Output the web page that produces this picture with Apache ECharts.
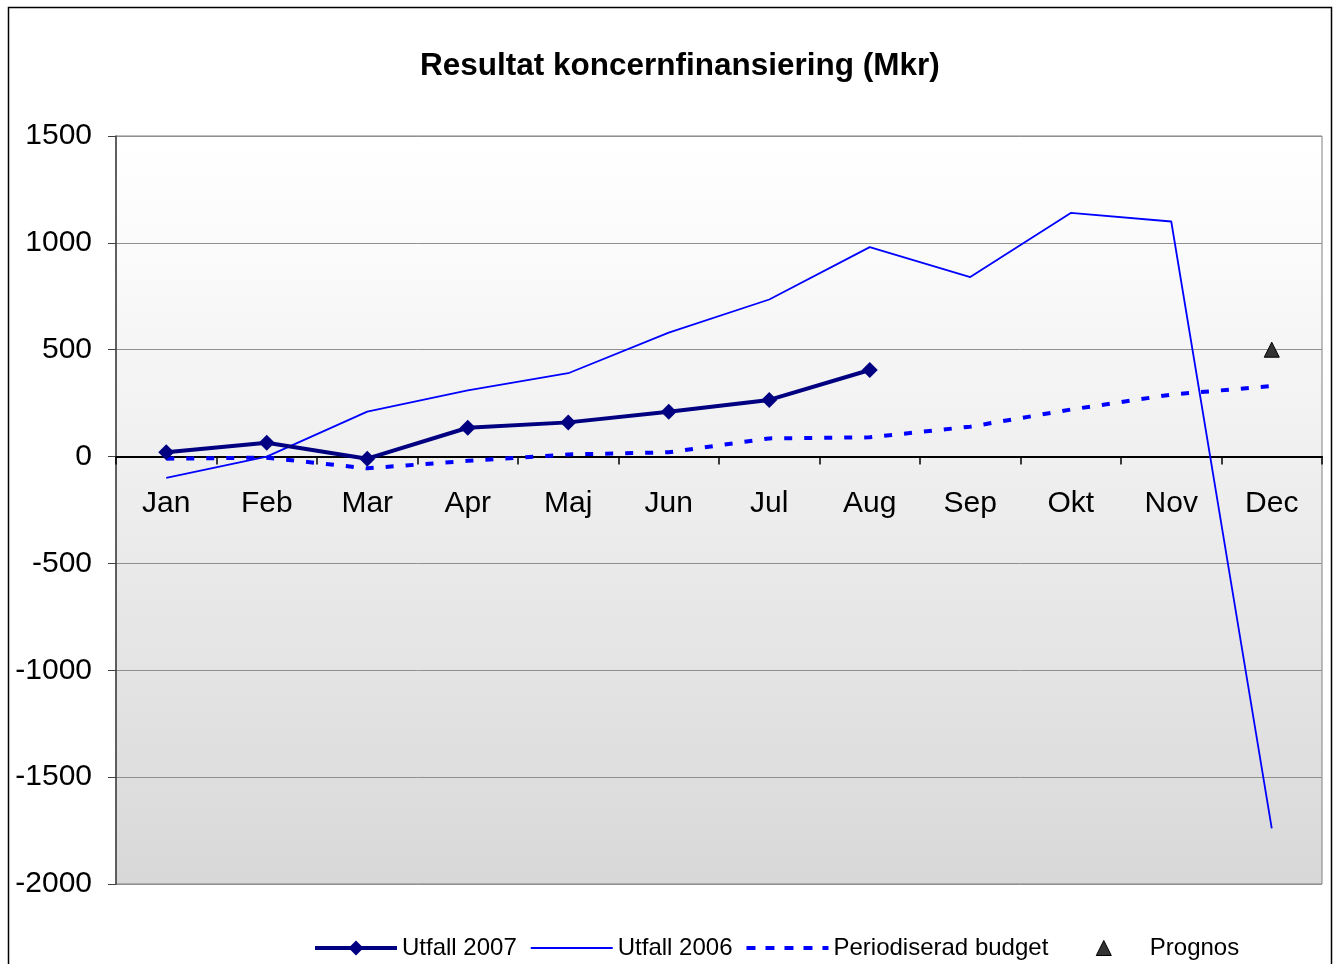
<!DOCTYPE html>
<html>
<head>
<meta charset="utf-8">
<script src="https://cdn.jsdelivr.net/npm/echarts@6/dist/echarts.min.js"></script>
<style>
html,body{margin:0;padding:0;background:#fff;}
#chart{width:1336px;height:964px;}
</style>
</head>
<body>
<div id="chart"></div>
<script>
var months = ['Jan','Feb','Mar','Apr','Maj','Jun','Jul','Aug','Sep','Okt','Nov','Dec'];
var utfall2007 = [20, 65, -10, 135, 160, 210, 265, 405, null, null, null, null];
var utfall2006 = [-100, 0, 210, 310, 390, 580, 735, 980, 840, 1140, 1100, -1740];
var budget = [-10, -5, -55, -20, 10, 20, 85, 90, 140, 220, 290, 330];
var prognos = [null, null, null, null, null, null, null, null, null, null, null, 500];
var yTicks = {min: -2000, max: 1500, interval: 500};

var chart = echarts.init(document.getElementById('chart'));
var font = 'Liberation Sans, Arial, sans-serif';
chart.setOption({
  animation: false,
  backgroundColor: '#ffffff',
  title: {
    text: 'Resultat koncernfinansiering (Mkr)',
    left: 415, top: 45,
    textStyle: {fontFamily: font, fontSize: 31.5, fontWeight: 'bold', color: '#000'}
  },
  graphic: [{
    type: 'rect', silent: true, z: 100,
    shape: {x: 8.5, y: 7.5, width: 1323, height: 980},
    style: {fill: 'none', stroke: '#000', lineWidth: 1.5}
  }],
  legend: {
    left: 315, top: 936, padding: 0,
    itemWidth: 82, itemHeight: 15, itemGap: 14,
    symbolKeepAspect: true,
    itemStyle: {borderWidth: 0},
    textStyle: {fontFamily: font, fontSize: 24, color: '#000'},
    data: [
      {name: 'Utfall 2007', icon: 'path://M0,5.5h82v4H0z M41,0L48.5,7.5L41,15L33.5,7.5z', itemStyle: {color: '#000080', borderWidth: 0}},
      {name: 'Utfall 2006', icon: 'path://M0,0h82v1.8H0z', itemStyle: {color: '#0000ff', borderWidth: 0}},
      {name: 'Periodiserad budget', icon: 'path://M0,0h9v4H0z M19,0h9v4h-9z M38,0h9v4h-9z M57,0h9v4h-9z M76,0h6v4h-6z', itemStyle: {color: '#0000ff', borderWidth: 0}},
      {name: 'Prognos', icon: 'path://M0,0L0,0z M82,15L82,15z M41,0L48.5,15H33.5z', itemStyle: {color: '#333333', borderColor: '#000', borderWidth: 1}}
    ]
  },
  grid: {
    left: 116, top: 136, right: 14, bottom: 80,
    show: true,
    borderColor: '#808080', borderWidth: 1,
    backgroundColor: new echarts.graphic.LinearGradient(0, 0, 0, 1, [
      {offset: 0, color: '#ffffff'},
      {offset: 0.15, color: '#fbfbfb'},
      {offset: 1, color: '#d8d8d8'}
    ])
  },
  xAxis: {
    type: 'category',
    data: months,
    boundaryGap: true,
    axisLine: {onZero: true, lineStyle: {color: '#000', width: 2}},
    axisTick: {show: true, inside: false, length: 8, alignWithLabel: false, lineStyle: {color: '#000', width: 1.5}},
    axisLabel: {fontFamily: font, fontSize: 30, color: '#000', margin: -395},
    splitLine: {show: false}
  },
  yAxis: {
    type: 'value',
    min: yTicks.min, max: yTicks.max, interval: yTicks.interval,
    axisLine: {show: true, onZero: false, lineStyle: {color: '#404040', width: 1.5}},
    axisTick: {show: true, inside: false, length: 8, lineStyle: {color: '#404040'}},
    axisLabel: {fontFamily: font, fontSize: 30, color: '#000', margin: 24, formatter: function (v) { return String(v); }},
    splitLine: {show: true, lineStyle: {color: '#909090', width: 1}}
  },
  series: [
    {
      name: 'Utfall 2006', type: 'line', data: utfall2006,
      symbol: 'none', z: 3,
      lineStyle: {color: '#0000ff', width: 1.8},
      itemStyle: {color: '#0000ff'}
    },
    {
      name: 'Periodiserad budget', type: 'line', data: budget,
      symbol: 'none', z: 2,
      lineStyle: {color: '#0000ff', width: 4, type: [8, 12]},
      itemStyle: {color: '#0000ff'}
    },
    {
      name: 'Utfall 2007', type: 'line', data: utfall2007,
      symbol: 'diamond', symbolSize: 16, z: 4,
      lineStyle: {color: '#000080', width: 4},
      itemStyle: {color: '#000080'}
    },
    {
      name: 'Prognos', type: 'line', data: prognos,
      symbol: 'triangle', symbolSize: 15, z: 5,
      lineStyle: {width: 0, opacity: 0},
      itemStyle: {color: '#333333', borderColor: '#000', borderWidth: 1}
    }
  ]
});
</script>
</body>
</html>
